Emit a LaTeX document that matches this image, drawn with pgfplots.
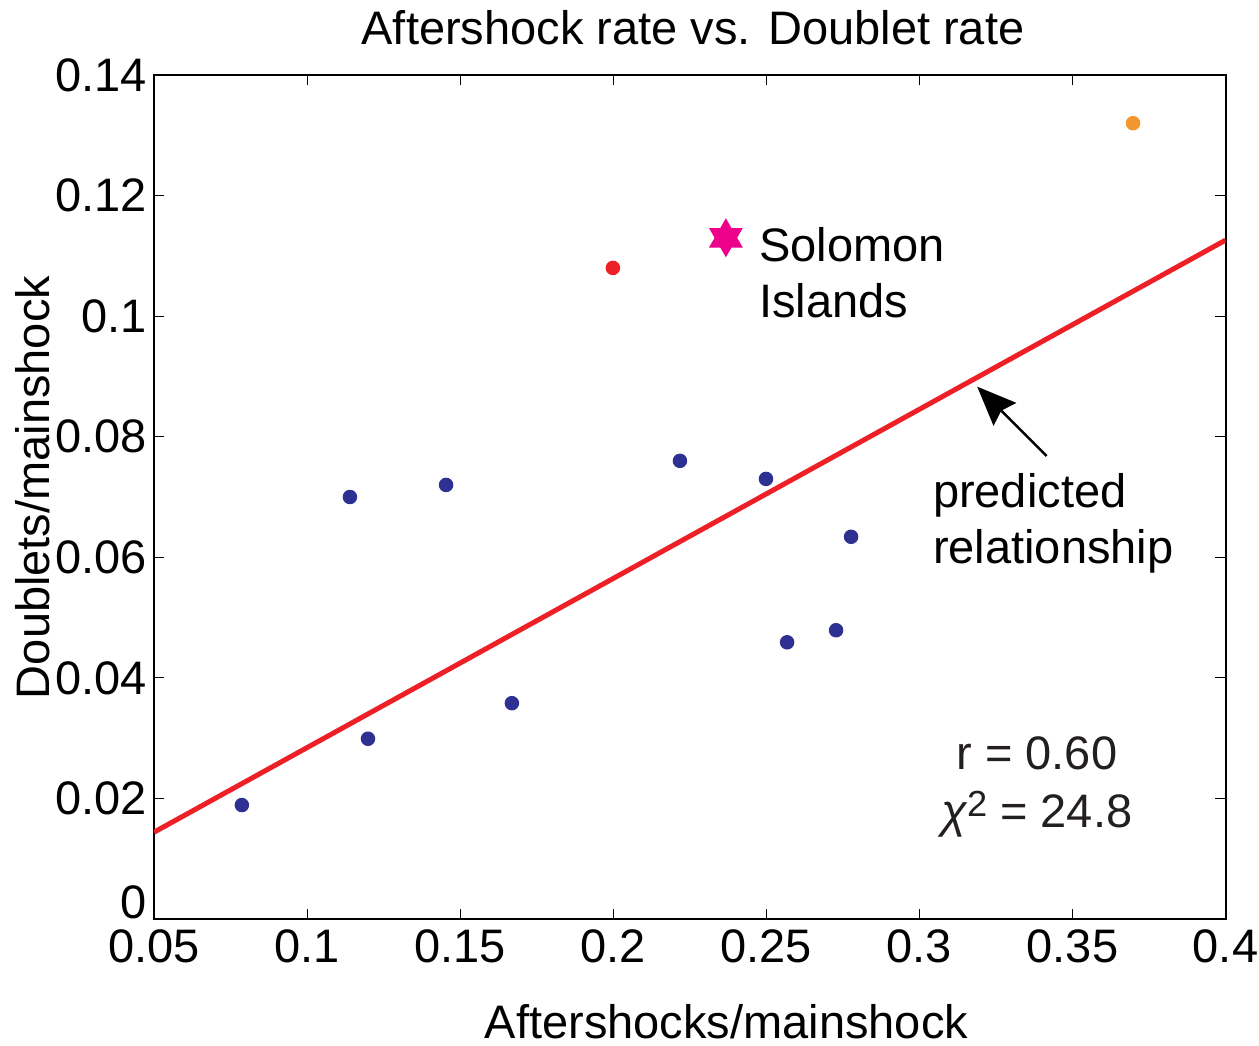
\documentclass[border=0pt]{standalone}
\usepackage{fontspec}
\setmainfont{Liberation Sans}
\usepackage{pgfplots}
\pgfplotsset{compat=1.18}
\usetikzlibrary{arrows.meta}
\definecolor{dotblue}{RGB}{46,49,146}
\definecolor{linered}{RGB}{237,32,39}
\definecolor{dotorange}{RGB}{244,150,48}
\definecolor{starmag}{RGB}{236,0,140}
\definecolor{txtgray}{RGB}{35,31,32}
\newcommand\F{\fontsize{18.8}{22.6}\selectfont}
\pgfdeclareplotmark{hexstar}{%
 \pgfpathmoveto{\pgfqpoint{0pt}{\pgfplotmarksize}}%
 \pgfpathlineto{\pgfqpoint{-0.866\pgfplotmarksize}{-0.5\pgfplotmarksize}}%
 \pgfpathlineto{\pgfqpoint{0.866\pgfplotmarksize}{-0.5\pgfplotmarksize}}%
 \pgfpathclose
 \pgfpathmoveto{\pgfqpoint{0pt}{-\pgfplotmarksize}}%
 \pgfpathlineto{\pgfqpoint{0.866\pgfplotmarksize}{0.5\pgfplotmarksize}}%
 \pgfpathlineto{\pgfqpoint{-0.866\pgfplotmarksize}{0.5\pgfplotmarksize}}%
 \pgfpathclose
 \pgfusepathqfill}
\begin{document}
\F
\begin{tikzpicture}
\begin{axis}[
  scale only axis,
  width=428.6pt, height=337.6pt,
  xmin=0.05, xmax=0.4, ymin=0, ymax=0.14,
  axis line style={line width=0.8pt, black},
  tick align=inside,
  every tick/.style={line width=0.4pt, black},
  major tick length=4pt,
  xtick={0.05,0.1,0.15,0.2,0.25,0.3,0.35,0.4},
  xticklabels={0.05,0.1,0.15,0.2,0.25,0.3,0.35,0.4},
  ytick={0,0.02,0.04,0.06,0.08,0.1,0.12,0.14},
  yticklabels={\raisebox{13.2pt}{0},0.02,0.04,0.06,0.08,0.1,0.12,0.14},
  x tick label style={font=\F, anchor=base, yshift=-17.2pt},
  y tick label style={font=\F, anchor=east, inner xsep=0pt, xshift=-2.8pt},
  every axis title shift=0pt,
  title={Aftershock rate vs. Doublet rate},
  title style={font=\F, at={(axis description cs:0.503,1)}, anchor=base, yshift=12pt},
  xlabel={Aftershocks/mainshock},
  xlabel style={font=\F, at={(axis description cs:0.5343,0)}, anchor=base, yshift=-47.6pt},
  ylabel={Doublets/mainshock},
  ylabel style={font=\F, at={([xshift=-41.6pt]axis description cs:0,0.5113)}, rotate=0, anchor=base},
]
\addplot[linered, line width=2pt] coordinates {(0.05,0.0144) (0.4,0.1126)};
\addplot[only marks, mark=*, mark size=2.7pt, color=dotblue] coordinates {
 (0.0787,0.0189) (0.1140,0.0700) (0.1199,0.0299) (0.1454,0.0720)
 (0.1669,0.0358) (0.2218,0.0760) (0.2499,0.0730) (0.2568,0.0459)
 (0.2728,0.0479) (0.2777,0.0634)};
\addplot[only marks, mark=*, mark size=2.7pt, color=linered] coordinates {(0.1999,0.1080)};
\addplot[only marks, mark=*, mark size=2.7pt, color=dotorange] coordinates {(0.3698,0.1320)};
\addplot[only marks, mark=hexstar, mark size=7.8pt, color=starmag] coordinates {(0.2368,0.1130)};
\draw[black, line width=1pt, -{Stealth[length=15.6pt, width=12.8pt, inset=2pt]}] (axis cs:0.3416,0.0768) -- (axis cs:0.3189,0.0883);
\node[anchor=base west, inner sep=0pt, font=\F] at (axis cs:0.2475,0.1090) {Solomon};
\node[anchor=base west, inner sep=0pt, font=\F] at (axis cs:0.2475,0.0997) {Islands};
\node[anchor=base west, inner sep=0pt, font=\F] at (axis cs:0.3043,0.06834) {predicted};
\node[anchor=base west, inner sep=0pt, font=\F] at (axis cs:0.3043,0.05905) {relationship};
\node[anchor=base, inner sep=0pt, font=\F, text=txtgray] at (axis cs:0.3384,0.02472) {r = 0.60};
\node[anchor=base, inner sep=0pt, font=\F, text=txtgray] at (axis cs:0.3384,0.01526) {{\itshape χ}\raisebox{4.4pt}{\fontsize{14.5}{16}\selectfont 2} = 24.8};
\end{axis}
\pgfresetboundingbox
\useasboundingbox (-61.6pt,-50.4pt) rectangle (442pt,367.6pt);
\end{tikzpicture}
\end{document}
